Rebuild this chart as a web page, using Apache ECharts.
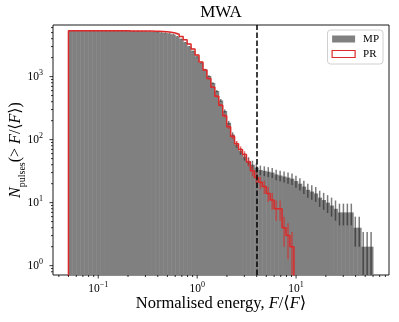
<!DOCTYPE html>
<html>
<head>
<meta charset="utf-8">
<script src="https://cdn.jsdelivr.net/npm/echarts@6/dist/echarts.min.js"></script>
<style>
  html, body { margin: 0; padding: 0; background: #fff; }
  #chart { width: 399px; height: 322px; }
</style>
</head>
<body>
<div id="chart"></div>
<script>
// histogram bins (log spaced, like np.logspace)
const binMin = 0.05
const binMax = 60
const nBins = 77
const binEdges = Array.from({ length: nBins + 1 }, (_, i) => binMin * Math.pow(binMax / binMin, i / nBins))

// cumulative pulse counts N(>F) per bin
const mpCounts = [
  5350, 5350, 5350, 5349, 5349, 5348, 5347, 5346, 5344, 5342,
  5339, 5335, 5330, 5324, 5316, 5306, 5294, 5278, 5258, 5232,
  5200, 5160, 5110, 5040, 4950, 4830, 4650, 4350, 3950, 3500,
  3000, 2550, 2080, 1650, 1300, 1020, 790, 590, 420, 285,
  185, 120, 84, 66, 54, 46, 40, 36, 33, 32,
  31, 30, 28, 27, 26, 25, 24, 22, 20, 18,
  16, 15, 14, 12, 11, 10, 9, 8, 7, 7,
  7, 7, 4, 4, 2, 2, 2
]
const prCounts = [
  5350, 5350, 5350, 5350, 5350, 5349, 5349, 5348, 5347, 5346,
  5344, 5342, 5339, 5335, 5330, 5324, 5318, 5312, 5306, 5300,
  5290, 5270, 5240, 5200, 5140, 5060, 4930, 4700, 4330, 3850,
  3300, 2750, 2200, 1700, 1270, 930, 680, 490, 350, 240,
  160, 112, 86, 70, 58, 44, 32, 25, 21, 18,
  14, 11, 8, 8, 4, 3, 2
]
const thresholdF = 4

// axes
const xMin = 0.0349
const xMax = 87
const yMin = 0.711
const yMax = 6600
const xTickExps = [-1, 0, 1]
const yTickExps = [0, 1, 2, 3]

const serif = "'Liberation Serif', 'DejaVu Serif', serif"
const red = '#dc2a2a'
const grey = '#808080'

const chart = echarts.init(document.getElementById('chart'))

const binCenter = i => (binEdges[i] + binEdges[i + 1]) / 2

const expLabel = v => {
  const lg = Math.log10(v)
  const e = Math.round(lg)
  if (Math.abs(lg - e) > 0.01) return ''
  return '{b|10}{s|' + (e < 0 ? '\u2212' + (-e) : e) + '}'
}
const tickRich = {
  b: { fontFamily: serif, fontSize: 11.5, lineHeight: 16, color: '#000' },
  s: { fontFamily: serif, fontSize: 8, lineHeight: 8, verticalAlign: 'top', color: '#000' }
}

// red step outline points
const prLine = [[binEdges[0], 0.3]]
prCounts.forEach((n, i) => {
  prLine.push([binEdges[i], n])
  prLine.push([binEdges[i + 1], n])
})
prLine.push([binEdges[prCounts.length], 0.3])

const errData = counts => counts.map((n, i) => [binCenter(i), n - Math.sqrt(n), n + Math.sqrt(n)])

const errRender = color => (params, api) => {
  const cs = params.coordSys
  const p0 = api.coord([api.value(0), Math.max(api.value(1), 1e-3)])
  const p1 = api.coord([api.value(0), api.value(2)])
  const yb = Math.min(p0[1], cs.y + cs.height)
  const yt = Math.max(p1[1], cs.y)
  return {
    type: 'line',
    shape: { x1: p0[0], y1: yb, x2: p0[0], y2: yt },
    style: { stroke: color, lineWidth: 1.5 }
  }
}

chart.setOption({
  animation: false,
  title: {
    text: 'MWA',
    left: 221,
    textAlign: 'center',
    top: 4,
    padding: 0,
    textStyle: { fontFamily: serif, fontSize: 17, fontWeight: 'normal', color: '#000' }
  },
  legend: {
    orient: 'vertical',
    right: 16,
    top: 30,
    padding: [3, 4, 4, 4],
    itemWidth: 23,
    itemHeight: 7,
    itemGap: 3,
    backgroundColor: 'rgba(255,255,255,0.8)',
    borderColor: '#d0d0d0',
    borderWidth: 1,
    borderRadius: 3,
    textStyle: { fontFamily: serif, fontSize: 11, lineHeight: 12, color: '#000', padding: [0, 0, 0, 3] },
    data: [
      { name: 'MP', icon: 'rect', itemStyle: { color: grey, borderWidth: 0 } },
      { name: 'PR', icon: 'rect', itemStyle: { color: '#fff', borderColor: red, borderWidth: 1.2 } }
    ]
  },
  grid: {
    left: 53, right: 10, top: 25, bottom: 47,
    outerBoundsMode: 'none', containLabel: false,
    show: true, borderColor: '#000', borderWidth: 0.9
  },
  xAxis: {
    type: 'log',
    logBase: 10,
    min: xMin,
    max: xMax,
    axisLine: { show: false },
    axisTick: { show: false },
    splitLine: { show: false },
    axisLabel: { formatter: expLabel, rich: tickRich, margin: 6, showMinLabel: false, showMaxLabel: false },
    name: 'Normalised energy, {i|F}/\u27e8{i|F}\u27e9',
    nameLocation: 'middle',
    nameGap: 20,
    nameMoveOverlap: false,
    nameTextStyle: {
      fontFamily: serif, fontSize: 16.5, color: '#000', verticalAlign: 'top',
      rich: { i: { fontFamily: serif, fontSize: 16.5, fontStyle: 'italic', color: '#000' } }
    }
  },
  yAxis: {
    type: 'log',
    logBase: 10,
    min: yMin,
    max: yMax,
    axisLine: { show: false },
    axisTick: { show: false },
    splitLine: { show: false },
    axisLabel: { formatter: expLabel, rich: tickRich, margin: 10, showMinLabel: false, showMaxLabel: false },
    name: '{i|N}{sub|pulses}(> {i|F}/\u27e8{i|F}\u27e9)',
    nameLocation: 'middle',
    nameRotate: 90,
    nameGap: 26,
    nameMoveOverlap: false,
    nameTextStyle: {
      fontFamily: serif, fontSize: 16, color: '#000', lineHeight: 22,
      rich: {
        i: { fontFamily: serif, fontSize: 16, fontStyle: 'italic', color: '#000', lineHeight: 22 },
        sub: { fontFamily: serif, fontSize: 10, color: '#000', lineHeight: 10, verticalAlign: 'bottom' }
      }
    }
  },
  series: [
    {
      name: 'MP',
      type: 'custom',
      z: 1,
      encode: { x: [0, 1], y: 2 },
      data: mpCounts.map((n, i) => [binEdges[i], binEdges[i + 1], n]),
      renderItem: (params, api) => {
        const cs = params.coordSys
        const p0 = api.coord([api.value(0), api.value(2)])
        const p1 = api.coord([api.value(1), api.value(2)])
        return {
          type: 'rect',
          shape: { x: p0[0], y: p0[1], width: p1[0] - p0[0] + 0.45, height: cs.y + cs.height - p0[1] },
          style: { fill: grey }
        }
      }
    },
    {
      name: 'MP err',
      type: 'custom',
      z: 2,
      encode: { x: 0, y: [1, 2] },
      data: errData(mpCounts),
      renderItem: errRender('rgba(35,35,35,0.6)')
    },
    {
      name: 'PR',
      type: 'line',
      z: 3,
      data: prLine,
      showSymbol: false,
      clip: true,
      lineStyle: { color: red, width: 1.5 },
      itemStyle: { color: red },
      markLine: {
        silent: true,
        symbol: 'none',
        label: { show: false },
        lineStyle: { color: '#000', type: [5.5, 2.4], width: 1.5 },
        data: [{ xAxis: thresholdF }]
      }
    },
    {
      name: 'PR err',
      type: 'custom',
      z: 4,
      encode: { x: 0, y: [1, 2] },
      data: errData(prCounts),
      renderItem: errRender('rgba(220,42,42,0.65)')
    }
  ]
})

// matplotlib-style major and minor ticks, placed through the axes' own scales
const drawTicks = () => {
  const x0 = chart.convertToPixel({ xAxisIndex: 0 }, xMin)
  const yb = chart.convertToPixel({ yAxisIndex: 0 }, yMin)
  const els = []
  const tick = (x1, y1, x2, y2) => els.push({
    type: 'line', silent: true, z: 10,
    shape: { x1, y1, x2, y2 },
    style: { stroke: '#000', lineWidth: 0.8 }
  })
  for (let d = -2; d <= 2; d++) {
    for (let m = 1; m <= 9; m++) {
      const v = m * Math.pow(10, d)
      if (v < xMin || v > xMax) continue
      const px = chart.convertToPixel({ xAxisIndex: 0 }, v)
      tick(px, yb, px, yb + (m === 1 ? 3.5 : 2))
    }
  }
  for (let d = -1; d <= 4; d++) {
    for (let m = 1; m <= 9; m++) {
      const v = m * Math.pow(10, d)
      if (v < yMin || v > yMax) continue
      const py = chart.convertToPixel({ yAxisIndex: 0 }, v)
      tick(x0, py, x0 - (m === 1 ? 3.5 : 2), py)
    }
  }
  chart.setOption({ graphic: els })
}
drawTicks()
</script>
</body>
</html>
